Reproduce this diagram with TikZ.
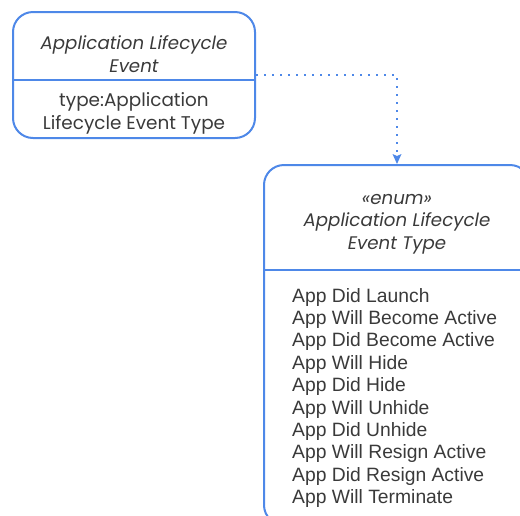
\documentclass[tikz,border=0pt]{standalone}
\usepackage{fontspec}
\setmainfont{Liberation Sans}
\newfontfamily\headfont{Poppins}
\usetikzlibrary{arrows.meta}
\definecolor{umlblue}{RGB}{78,136,232}
\definecolor{umltext}{RGB}{58,58,58}
\tikzset{
  classbox/.style={draw=umlblue, line width=2pt, rounded corners=20pt, inner sep=0pt},
  divider/.style={draw=umlblue, line width=2pt},
  headtext/.style={text=umltext, align=center, font=\headfont\itshape\fontsize{18.2}{22.5}\selectfont, inner sep=0pt},
  attrtext/.style={text=umltext, align=center, font=\headfont\fontsize{18.4}{23}\selectfont, inner sep=0pt},
  itemtext/.style={text=umltext, align=left, font=\fontsize{19.3}{22.4}\selectfont, inner sep=0pt},
  depend/.style={draw=umlblue, line width=1.6pt, dash pattern=on 1.6pt off 6.4pt,
    -{Stealth[length=10pt,width=9pt,inset=2pt,line width=0pt, fill=umlblue, sep=0pt]}},
}
\begin{document}
\begin{tikzpicture}[x=1pt,y=-1pt]
  \useasboundingbox (0,0) rectangle (520,515);
  \clip (0,0) rectangle (520,515);
  % class with one attribute
  \node[classbox, minimum width=242pt, minimum height=126pt] (event) at (134,75) {};
  \draw[divider] (event.west |- 0,80) -- (event.east |- 0,80);
  \node[headtext] (eventname) at (134,54) {Application Lifecycle\\Event};
  \node[attrtext] (eventattr) at (134,113) {type:Application\\Lifecycle Event Type};
  % enumeration, running past the page edge
  \node[classbox, minimum width=266pt, minimum height=360pt] (enum) at (397,345) {};
  \draw[divider] (enum.west |- 0,270) -- (enum.east |- 0,270);
  \node[headtext] (enumname) at (397,224) {«enum»\\Application Lifecycle\\Event Type};
  \node[itemtext, anchor=north west] (literals) at (292,288) {App Did Launch\\App Will Become Active\\App Did Become Active\\App Will Hide\\App Did Hide\\App Will Unhide\\App Did Unhide\\App Will Resign Active\\App Did Resign Active\\App Will Terminate};
  % dependency
  \draw[depend] (event.east) -| (enum.north);
\end{tikzpicture}
\end{document}
